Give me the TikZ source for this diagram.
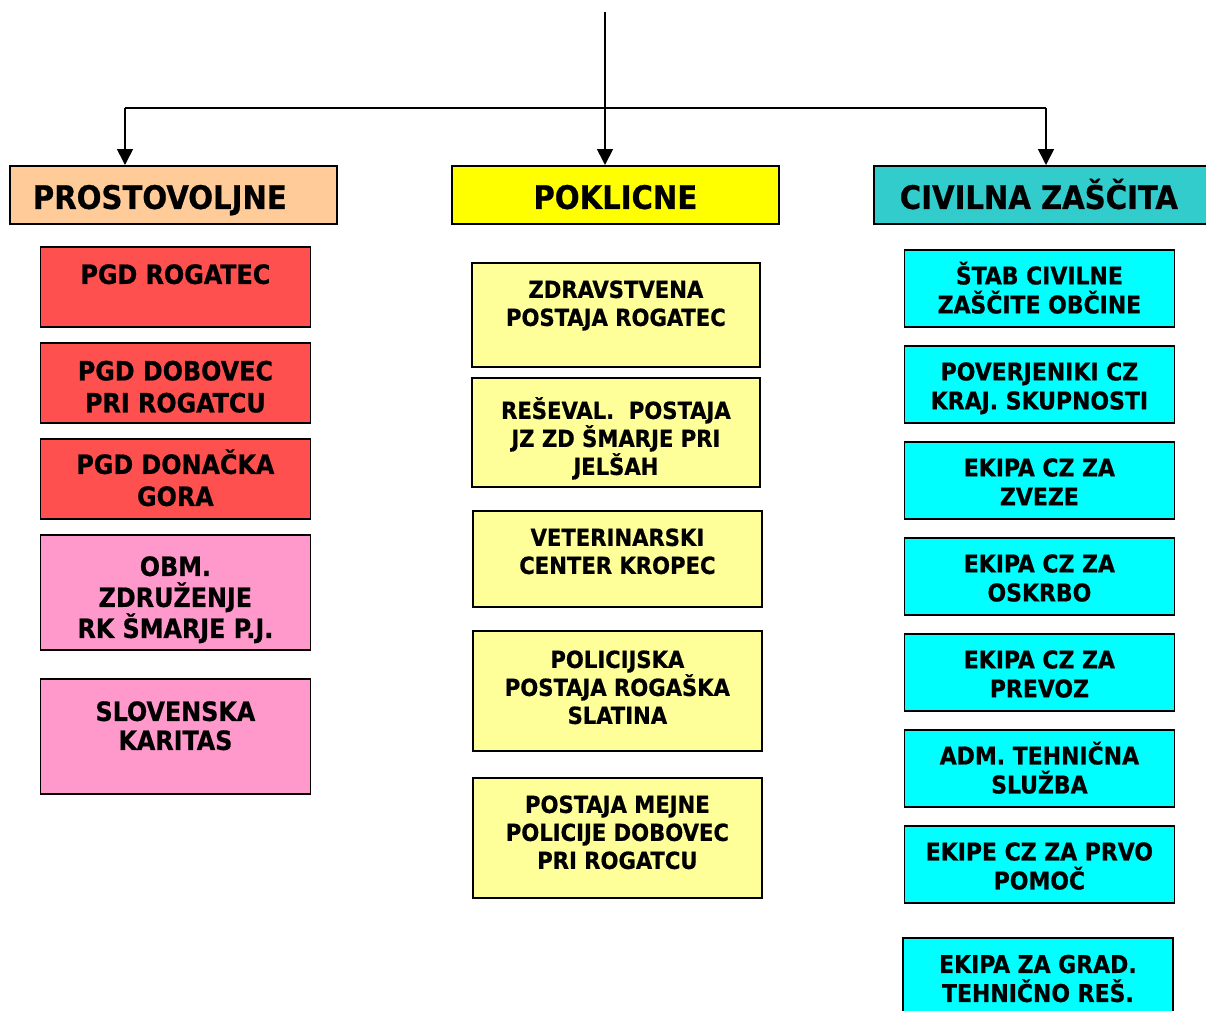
\documentclass[tikz,border=0pt]{standalone}
\usepackage{fontspec}
\newfontfamily\cz{DejaVu Sans Condensed}[BoldFeatures={FakeBold=0.7}]
\usetikzlibrary{arrows.meta}
\definecolor{hdrP}{HTML}{FFCC99}
\definecolor{hdrK}{HTML}{FFFF00}
\definecolor{hdrC}{HTML}{33CCCC}
\definecolor{redbox}{HTML}{FF5050}
\definecolor{pinkbox}{HTML}{FF99CC}
\definecolor{lybox}{HTML}{FFFF99}
\definecolor{cybox}{HTML}{00FFFF}
\newcommand\bxt[4]{\parbox[c][#2pt][t]{#1pt}{\centering\rule{0pt}{#3pt}#4\par}}
\newcommand\bxl[5]{\parbox[c][#2pt][t]{#1pt}{\raggedright\rule{0pt}{#3pt}\hspace*{#4pt}#5\par}}
\tikzset{
  box/.style={draw=black, line width=1.8pt, inner sep=0pt, anchor=north west},
  hdr/.style={box, font=\cz\bfseries\fontsize{32.4}{38}\selectfont},
  lft/.style={box, font=\cz\bfseries\fontsize{26.5}{32}\selectfont},
  mid/.style={box, fill=lybox, font=\cz\bfseries\fontsize{23.5}{28}\selectfont},
  rgt/.style={box, fill=cybox, font=\cz\bfseries\fontsize{24.4}{29}\selectfont},
  conn/.style={draw=black, line width=1.7pt},
  arr/.style={conn, -{Triangle[width=16pt,length=16pt]}}
}
\begin{document}
\begin{tikzpicture}[x=1pt,y=-1pt]
\useasboundingbox (0,0) rectangle (1206,1010);
% headers
\node[hdr, fill=hdrP] (P) at (9,165) {\bxl{327}{58}{43}{23}{PROSTOVOLJNE}};
\node[hdr, fill=hdrK] (K) at (451,165) {\bxt{327}{58}{43}{POKLICNE}};
\node[hdr, fill=hdrC] (C) at (873,165) {\bxt{342}{58}{43}{CIVILNA ZAŠČITA\hspace*{12pt}}};
% left column
\node[lft, fill=redbox] (l1) at (39.5,246) {\bxt{270}{80}{37}{PGD ROGATEC}};
\node[lft, fill=redbox] (l2) at (39.5,342) {\bxt{270}{80}{37.5}{PGD DOBOVEC\\PRI ROGATCU}};
\node[lft, fill=redbox] (l3) at (39.5,438) {\bxt{270}{80}{35}{PGD DONAČKA\\GORA}};
\node[lft, fill=pinkbox, font=\cz\bfseries\fontsize{26.5}{31}\selectfont] (l4) at (39.5,534) {\bxt{270}{115}{41}{OBM.\\ZDRUŽENJE\\RK ŠMARJE P.J.}};
\node[lft, fill=pinkbox, font=\cz\bfseries\fontsize{26.5}{29}\selectfont] (l5) at (39.5,678) {\bxt{270}{115}{42}{SLOVENSKA\\KARITAS}};
% middle column
\node[mid] (m1) at (471,262) {\bxt{288}{104}{35}{ZDRAVSTVENA\\POSTAJA ROGATEC}};
\node[mid] (m2) at (471,377) {\bxt{288}{109}{41}{REŠEVAL.\ \ POSTAJA\\JZ ZD ŠMARJE PRI\\JELŠAH}};
\node[mid] (m3) at (472,510) {\bxt{289}{96}{35}{VETERINARSKI\\CENTER KROPEC}};
\node[mid] (m4) at (472,630) {\bxt{289}{120}{37}{POLICIJSKA\\POSTAJA ROGAŠKA\\SLATINA}};
\node[mid] (m5) at (472,777) {\bxt{289}{120}{35}{POSTAJA MEJNE\\POLICIJE DOBOVEC\\PRI ROGATCU}};
% right column
\node[rgt] (r1) at (903.5,249) {\bxt{270}{77}{34.5}{ŠTAB CIVILNE\\ZAŠČITE OBČINE}};
\node[rgt] (r2) at (903.5,345) {\bxt{270}{77}{34.5}{POVERJENIKI CZ\\KRAJ. SKUPNOSTI}};
\node[rgt] (r3) at (903.5,441) {\bxt{270}{77}{34.5}{EKIPA CZ ZA\\ZVEZE}};
\node[rgt] (r4) at (903.5,537) {\bxt{270}{77}{34.5}{EKIPA CZ ZA\\OSKRBO}};
\node[rgt] (r5) at (903.5,633) {\bxt{270}{77}{34.5}{EKIPA CZ ZA\\PREVOZ}};
\node[rgt] (r6) at (903.5,729) {\bxt{270}{77}{34.5}{ADM. TEHNIČNA\\SLUŽBA}};
\node[rgt] (r7) at (903.5,825) {\bxt{270}{77}{34.5}{EKIPE CZ ZA PRVO\\POMOČ}};
\node[rgt] (r8) at (902,937) {\bxt{270}{90}{35}{EKIPA ZA GRAD.\\TEHNIČNO REŠ.}};
% connectors
\coordinate (top) at (605,12);
\coordinate (jl) at (125,108);
\coordinate (jr) at (1046,108);
\draw[arr] (top) -- (top |- K.north);
\draw[conn] (jl) -- (jr);
\draw[arr] (jl) -- (jl |- P.north);
\draw[arr] (jr) -- (jr |- C.north);
\end{tikzpicture}
\end{document}
